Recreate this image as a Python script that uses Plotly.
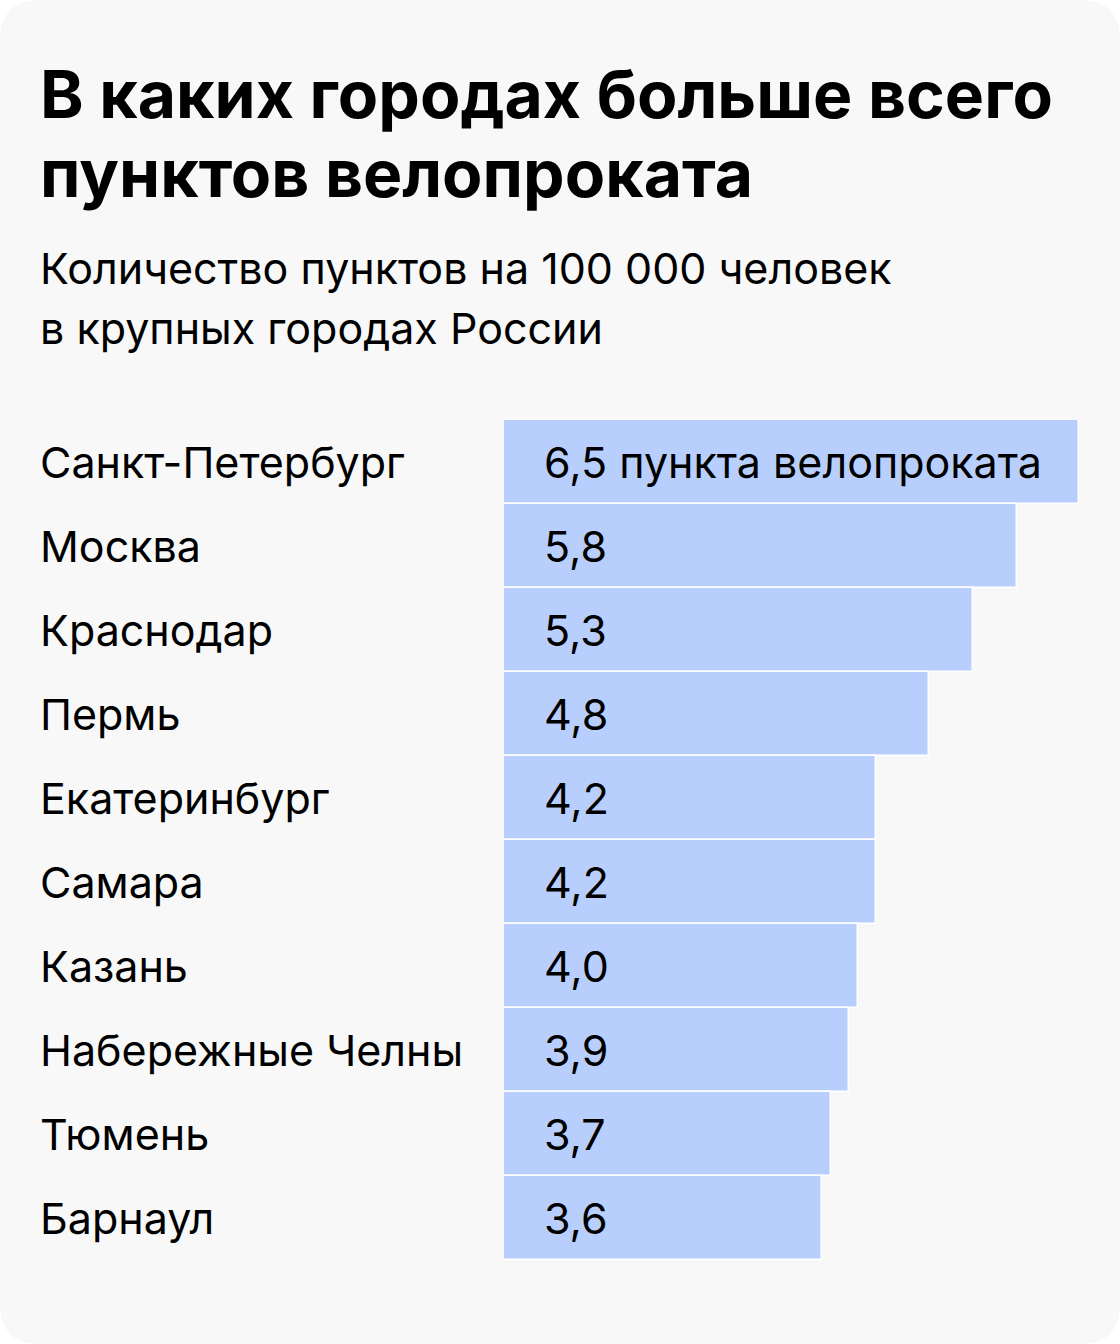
import plotly.graph_objects as go

# данные
cities = ["Санкт-Петербург", "Москва", "Краснодар", "Пермь", "Екатеринбург",
          "Самара", "Казань", "Набережные Челны", "Тюмень", "Барнаул"]
values = [6.5, 5.8, 5.3, 4.8, 4.2, 4.2, 4.0, 3.9, 3.7, 3.6]
value_labels = ["6,5 пункта велопроката", "5,8", "5,3", "4,8", "4,2",
                "4,2", "4,0", "3,9", "3,7", "3,6"]
title_lines = ["В каких городах больше всего", "пунктов велопроката"]
subtitle_lines = ["Количество пунктов на 100 000 человек", "в крупных городах России"]

W, H = 1120, 1344
FONT = "Inter"
BG = "#f8f8f8"
BAR = "#b8cffd"
LEFT = 38 / W  # левый край текста (с учетом внутреннего отступа аннотаций)

fig = go.Figure()
fig.add_trace(go.Bar(
    x=values, y=cities, orientation="h",
    marker=dict(color=BAR, line=dict(color="white", width=1.5)),
    hoverinfo="skip",
))

# подписи городов и значений
annotations = []
for city, lbl in zip(cities, value_labels):
    annotations.append(dict(
        x=LEFT, xref="paper", y=city, yref="y", text=city,
        xanchor="left", yanchor="middle", showarrow=False,
        font=dict(family=FONT, size=43, color="#000"),
    ))
    annotations.append(dict(
        x=0, xref="x", y=city, yref="y", text=lbl, xshift=38,
        xanchor="left", yanchor="middle", showarrow=False,
        font=dict(family=FONT, size=43, color="#000"),
    ))

# заголовок и подзаголовок (каждая строка отдельно, чтобы держать интерлиньяж)
for line, top in zip(title_lines, [52, 131]):
    annotations.append(dict(
        x=LEFT, y=1 - top / H, xref="paper", yref="paper",
        text=f"<b>{line}</b>", xanchor="left", yanchor="top", showarrow=False,
        font=dict(family=FONT, size=66, color="#000"),
    ))
for line, top in zip(subtitle_lines, [240, 300]):
    annotations.append(dict(
        x=LEFT, y=1 - top / H, xref="paper", yref="paper",
        text=line, xanchor="left", yanchor="top", showarrow=False,
        font=dict(family=FONT, size=43, color="#000"),
    ))

# скругленный фон
rx, ry = 40 / W, 40 / H
path = (f"M {rx},0 L {1 - rx},0 Q 1,0 1,{ry} L 1,{1 - ry} Q 1,1 {1 - rx},1 "
        f"L {rx},1 Q 0,1 0,{1 - ry} L 0,{ry} Q 0,0 {rx},0 Z")

fig.update_layout(
    width=W, height=H,
    margin=dict(l=0, r=0, t=0, b=0),
    paper_bgcolor="white", plot_bgcolor="rgba(0,0,0,0)",
    bargap=0, showlegend=False,
    xaxis=dict(domain=[504 / W, 1079 / W], range=[0, 6.5], visible=False, fixedrange=True),
    yaxis=dict(domain=[1 - 1260 / H, 1 - 420 / H], range=[9.5, -0.5], visible=False,
               categoryorder="array", categoryarray=cities, fixedrange=True),
    shapes=[dict(type="path", path=path, xref="paper", yref="paper",
                 fillcolor=BG, line=dict(width=0), layer="below")],
    annotations=annotations,
)

fig.write_html("out.html", config={"displayModeBar": False},
               post_script="document.body.style.margin='0';")
